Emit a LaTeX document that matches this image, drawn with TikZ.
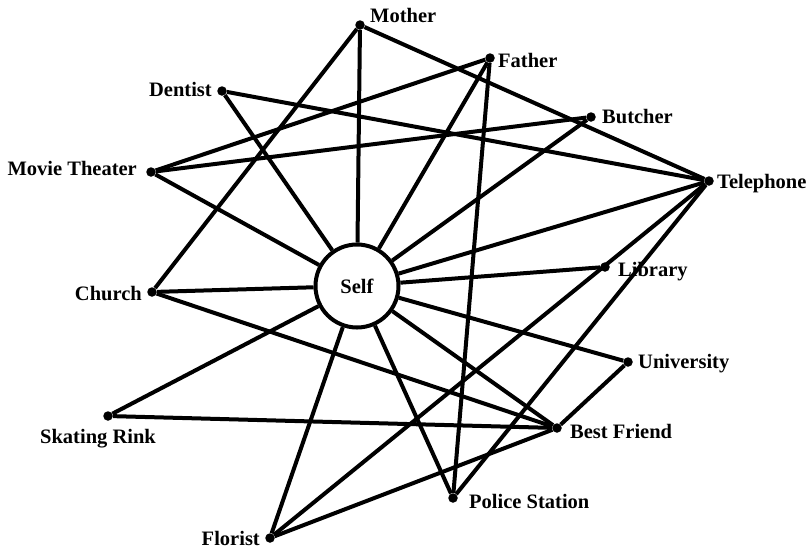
\documentclass[tikz,border=0pt]{standalone}
\usepackage{fontspec}
\setmainfont{Liberation Serif}
\begin{document}
\begin{tikzpicture}[x=1pt,y=-1pt,
  dot/.style={circle,fill=black,inner sep=0pt,minimum size=9.5pt},
  lab/.style={font=\fontsize{20.5}{24}\selectfont\bfseries,inner sep=0pt},
  link/.style={line width=4pt}]
\useasboundingbox (0,0) rectangle (810,550);
\node[circle,draw,line width=4pt,minimum size=83pt,inner sep=0pt,fill=white,
      font=\fontsize{20.5}{24}\selectfont\bfseries] (self) at (357,286) {Self};
% dots
\node[dot] (mother)   at (360,25)  {};
\node[dot] (father)   at (490,58)  {};
\node[dot] (dentist)  at (222,91)  {};
\node[dot] (butcher)  at (591,117) {};
\node[dot] (movie)    at (151,172) {};
\node[dot] (phone)    at (709,181) {};
\node[dot] (library)  at (605,267) {};
\node[dot] (church)   at (152,292) {};
\node[dot] (univ)     at (628,362) {};
\node[dot] (skating)  at (108,416) {};
\node[dot] (friend)   at (557,428) {};
\node[dot] (police)   at (453,498) {};
\node[dot] (florist)  at (270,538) {};
% labels
\node[lab,anchor=base west] (lmother)  at (370,22)  {Mother};
\node[lab,anchor=base west] (lfather)  at (498,67)  {Father};
\node[lab,anchor=base east] (ldentist) at (212,96)  {Dentist};
\node[lab,anchor=base west] (lbutcher) at (602,123) {Butcher};
\node[lab,anchor=base east] (lmovie)   at (137,175) {Movie Theater};
\node[lab,anchor=base west] (lphone)   at (717,188) {Telephone};
\node[lab,anchor=base west] (llibrary) at (618,276) {Library};
\node[lab,anchor=base east] (lchurch)  at (142,300) {Church};
\node[lab,anchor=base west] (luniv)    at (638,368) {University};
\node[lab,anchor=base west] (lskating) at (40,443)  {Skating Rink};
\node[lab,anchor=base west] (lfriend)  at (570,438) {Best Friend};
\node[lab,anchor=base west] (lpolice)  at (469,508) {Police Station};
\node[lab,anchor=base east] (lflorist) at (260,545) {Florist};
% edges
\foreach \n in {mother,father,dentist,butcher,movie,phone,library,church,univ,skating,friend,police,florist}
  \draw[link] (self) -- (\n);
\draw[link] (mother) -- (church);
\draw[link] (mother) -- (phone);
\draw[link] (father) -- (movie);
\draw[link] (father) -- (police);
\draw[link] (dentist) -- (phone);
\draw[link] (movie) -- (butcher);
\draw[link] (church) -- (friend);
\draw[link] (skating) -- (friend);
\draw[link] (phone) -- (florist);
\draw[link] (phone) -- (police);
\draw[link] (univ) -- (friend);
\draw[link] (florist) -- (friend);
\end{tikzpicture}
\end{document}
